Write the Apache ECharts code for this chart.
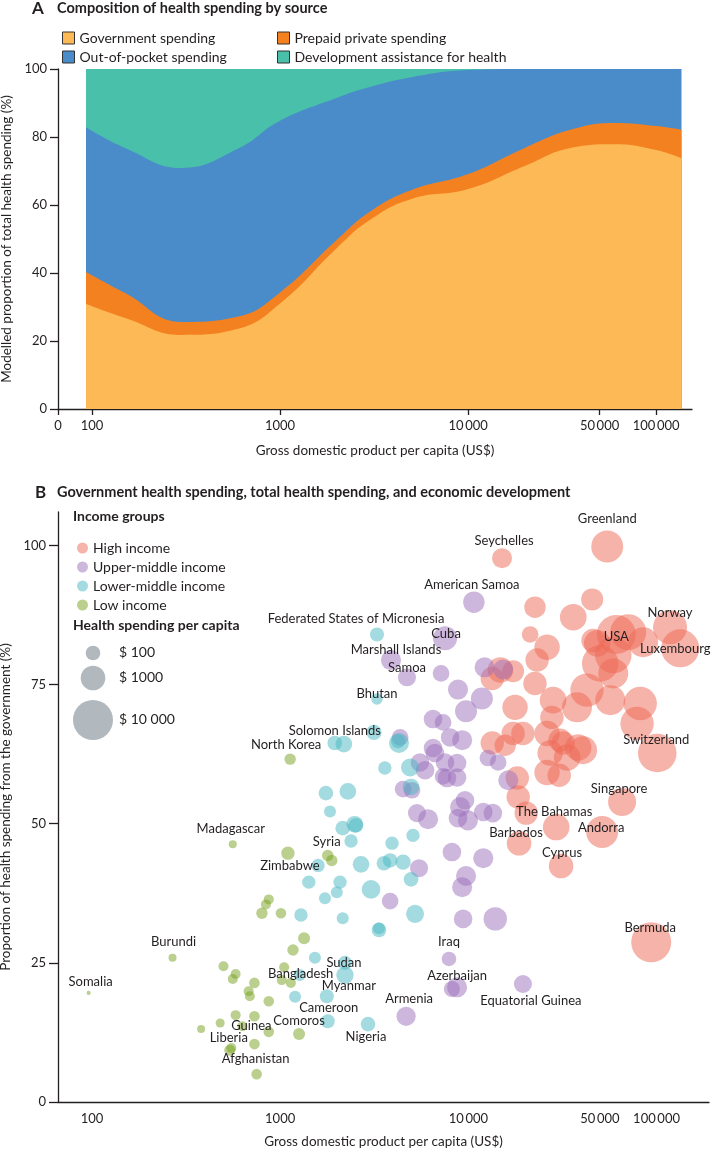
<!DOCTYPE html>
<html>
<head>
<meta charset="utf-8">
<script src="https://cdn.jsdelivr.net/npm/echarts@6/dist/echarts.min.js"></script>
<style>
  html, body { margin: 0; padding: 0; background: #fff; }
  #chart { width: 713px; height: 1150px; }
</style>
</head>
<body>
<div id="chart"></div>
<script>
// ---- panel A: modelled composition along GDP per capita (US$) ----
const gdpGrid         = [93, 150, 300, 600, 1000, 2000, 3000, 5000, 10000, 20000, 35000, 60000, 100000, 136000];
const govSpending     = [30.9, 26.8, 21.8, 23.6, 31.0, 47.3, 55.6, 61.8, 64.7, 71.5, 76.8, 77.9, 76.2, 73.8];
const prepaidSpending = [9.4, 7.3, 3.8, 3.6, 3.3, 2.4, 2.4, 2.6, 4.4, 5.3, 5.3, 6.2, 7.0, 8.3];
const oopSpending     = [42.6, 42.7, 45.3, 49.4, 50.5, 41.8, 36.7, 33.2, 30.6, 23.2, 17.9, 15.9, 16.8, 17.9];
const dahSpending     = [17.1, 23.2, 29.1, 23.4, 15.2, 8.5, 5.3, 2.4, 0.3, 0, 0, 0, 0, 0];

// ---- panel B: [GDP per capita, % from government, health spending per capita, label] ----
const highIncome = [
  [54700, 99.8, 3000, 'Greenland'], [15100, 97.7, 350, 'Seychelles'],
  [22600, 88.9, 480], [45500, 90.3, 550], [36100, 87.1, 1350], [21300, 84.0, 160],
  [26200, 81.7, 1130], [23200, 79.4, 760], [22600, 75.2, 760],
  [61100, 84.0, 8600, 'USA'], [70700, 84.4, 5500], [84900, 82.6, 2240],
  [118000, 85.3, 4070, 'Norway'], [133600, 81.5, 7400, 'Luxembourg'],
  [48400, 82.4, 1350], [58900, 80.3, 6000], [50200, 78.8, 6000], [58900, 77.0, 2240],
  [42700, 74.0, 3700], [56800, 72.2, 2240], [81900, 71.6, 3700], [78800, 68.0, 3700],
  [100900, 62.7, 8100, 'Switzerland'],
  [37800, 70.9, 2240], [28200, 72.2, 1350], [27800, 69.1, 760], [17700, 70.9, 1130],
  [17300, 66.2, 760], [19500, 66.2, 760], [26200, 66.2, 1130], [30700, 65.0, 760],
  [38300, 63.7, 1350], [14800, 77.6, 1130], [13400, 76.1, 760], [18200, 58.2, 760],
  [18400, 54.8, 760], [20300, 51.9, 760], [26200, 59.2, 1130], [30400, 58.7, 760],
  [40700, 63.2, 1660], [33500, 61.9, 1350], [27200, 62.7, 1130], [31900, 64.5, 760],
  [13400, 64.5, 760], [15700, 64.1, 480], [46000, 82.9, 760], [17300, 77.4, 550],
  [65600, 53.9, 1660, 'Singapore'], [51400, 48.5, 3000, 'Andorra'],
  [29300, 49.4, 1350, 'The Bahamas'], [18600, 46.5, 1000, 'Barbados'],
  [31100, 42.4, 1000, 'Cyprus'], [93700, 28.7, 10000, 'Bermuda']
];
const upperMiddleIncome = [
  [10700, 89.8, 480, 'American Samoa'], [7520, 83.3, 870, 'Cuba'],
  [3880, 79.4, 350, 'Marshall Islands'], [4720, 76.3, 220, 'Samoa'],
  [7160, 77.0, 160], [8810, 74.1, 350], [11800, 72.5, 550], [9720, 70.2, 550],
  [6490, 68.8, 250], [7340, 68.2, 160], [12200, 78.1, 350], [15300, 77.7, 350],
  [8000, 65.5, 250], [6640, 62.7, 250], [5530, 61.0, 250], [4340, 65.5, 160],
  [12700, 61.8, 160], [14400, 61.0, 160], [16300, 57.8, 350], [9270, 65.0, 350],
  [6490, 63.6, 250], [7520, 61.0, 250], [8710, 60.9, 250], [7700, 58.2, 250],
  [8710, 58.3, 250], [5890, 59.6, 250], [4500, 56.2, 160], [5020, 56.0, 160],
  [9040, 53.0, 350], [9600, 54.2, 250], [8810, 51.0, 250], [9950, 50.6, 350],
  [12000, 52.1, 250], [13500, 51.9, 250], [5330, 51.9, 220], [6110, 50.8, 350],
  [8180, 44.9, 250], [12000, 43.8, 350], [9720, 40.6, 350], [9270, 38.6, 350],
  [5470, 42.0, 220], [3840, 36.1, 160], [9380, 32.9, 250], [13900, 32.9, 760],
  [7340, 58.5, 160],
  [7890, 25.7, 100, 'Iraq'], [8180, 20.3, 140], [8710, 20.6, 350, 'Azerbaijan'],
  [19500, 21.2, 220, 'Equatorial Guinea'], [4670, 15.4, 290, 'Armenia']
];
const lowerMiddleIncome = [
  [3270, 84.0, 87, 'Federated States of Micronesia'], [3270, 72.4, 48, 'Bhutan'],
  [2180, 64.3, 160, 'Solomon Islands'], [1950, 64.5, 100], [3150, 66.4, 120],
  [4280, 64.5, 350], [4230, 64.8, 87], [3600, 60.0, 75], [4900, 60.1, 220],
  [4960, 56.6, 160], [1750, 55.5, 100], [2290, 55.8, 160], [1840, 52.2, 55],
  [2150, 49.2, 100], [2490, 49.9, 160], [2380, 46.9, 75], [1590, 42.5, 75],
  [1420, 39.5, 75], [2080, 39.5, 75], [2000, 37.7, 55], [1730, 36.6, 55],
  [2690, 42.7, 160], [3040, 38.2, 250], [1290, 33.6, 75], [2150, 33.0, 55],
  [3930, 46.5, 75], [3560, 42.9, 100], [3840, 43.4, 100], [4500, 43.1, 120],
  [5080, 47.9, 75], [4960, 40.0, 100], [5210, 33.8, 220], [3350, 30.9, 100],
  [3350, 31.2, 55], [2530, 49.7, 100],
  [2210, 22.8, 190, 'Sudan'], [2210, 25.0, 87], [1530, 25.9, 55],
  [1270, 22.8, 55, 'Bangladesh'], [1770, 19.0, 87, 'Myanmar'], [1200, 18.9, 55],
  [1790, 14.5, 87, 'Cameroon'], [2930, 14.0, 100, 'Nigeria']
];
const lowIncome = [
  [96, 19.6, 9, 'Somalia'], [268, 25.9, 22, 'Burundi'], [560, 46.3, 22, 'Madagascar'],
  [1130, 61.6, 48, 'North Korea'], [1100, 44.7, 75, 'Zimbabwe'],
  [1790, 44.3, 48, 'Syria'], [1880, 43.4, 48],
  [870, 36.4, 35], [840, 35.5, 35], [800, 33.9, 48], [1010, 33.9, 40],
  [1340, 29.4, 55], [1170, 27.3, 48], [500, 24.4, 35], [580, 23.0, 35],
  [560, 22.1, 35], [730, 21.4, 40], [680, 19.9, 35], [690, 19.0, 35],
  [870, 18.1, 40], [580, 15.6, 35], [730, 15.4, 40], [480, 14.2, 28],
  [380, 13.1, 22], [630, 13.6, 35, 'Guinea'], [870, 12.6, 40],
  [1260, 12.2, 55, 'Comoros'], [730, 10.4, 40], [540, 9.3, 45, 'Liberia'],
  [550, 9.7, 35], [750, 5.0, 40, 'Afghanistan'],
  [1050, 24.2, 35], [1020, 21.9, 35], [1140, 21.4, 35]
];

const gdpTicks = [100, 1000, 10000, 50000, 100000];
const sizeLegendValues = [100, 1000, 10000];

// where each country name sits relative to its bubble (px)
const labelOffset = {
  'Greenland': [0, -28], 'Seychelles': [2, -17], 'American Samoa': [-2, -17],
  'Federated States of Micronesia': [-21, -16], 'Cuba': [1, -5],
  'Marshall Islands': [5, -10], 'Samoa': [0, -9], 'Bhutan': [0, -5],
  'Solomon Islands': [-9, -13], 'North Korea': [-4, -14], 'USA': [0, 2],
  'Norway': [0, -14], 'Luxembourg': [-5, 0], 'Switzerland': [-1, -13],
  'Singapore': [-3, -13], 'Andorra': [-1, -4], 'The Bahamas': [-2, -15],
  'Barbados': [-3, -10], 'Cyprus': [1, -13], 'Bermuda': [-1, -14],
  'Madagascar': [-2, -15], 'Syria': [-1, -14], 'Zimbabwe': [2, 13],
  'Burundi': [1, -16], 'Somalia': [2, -11], 'Iraq': [0, -17],
  'Azerbaijan': [0, -12], 'Equatorial Guinea': [8, 17], 'Armenia': [3, -17],
  'Nigeria': [-2, 13], 'Cameroon': [1, -13], 'Myanmar': [22, -10],
  'Sudan': [-1, -12], 'Bangladesh': [1, -1], 'Comoros': [0, -13],
  'Guinea': [9, 0], 'Liberia': [-1, -12], 'Afghanistan': [-1, -15]
};

const font = 'Lato, "Open Sans", sans-serif';
const ink = '#231f20';
const logMin = Math.log10(66);

// bubble radius from health spending per capita
function bubbleRadius(s) {
  const L = Math.log10(s);
  return L <= 3 ? Math.max(1.6, 2.3 + 5 * (L - 1)) : 12.3 + 7.7 * (L - 3);
}

function groupDigits(n, sep) {
  return n >= 10000 ? String(n).replace(/\B(?=(\d{3})+(?!\d))/g, sep) : String(n);
}

function gdpLabel(v) {
  if (v < 1.9) return '0';
  return groupDigits(Math.round(Math.pow(10, v)), '\u2009');
}

// the four layers are filled from the axis up, top boundary first
const layerTops = [];
let running = gdpGrid.map(() => 0);
[govSpending, prepaidSpending, oopSpending, dahSpending].forEach(vals => {
  running = running.map((r, i) => +(r + vals[i]).toFixed(2));
  layerTops.push(running);
});

function areaSeries(name, tops, color) {
  return {
    name: name, type: 'line', smooth: 0.45,
    xAxisIndex: 0, yAxisIndex: 0,
    data: gdpGrid.map((g, i) => [Math.log10(g), tops[i]]),
    showSymbol: false, symbol: 'none',
    lineStyle: { width: 0 },
    itemStyle: { color: color, borderColor: '#333', borderWidth: 1 },
    areaStyle: { color: color, opacity: 1, origin: 'start' },
    emphasis: { disabled: true }, silent: true
  };
}

function bubbleSeries(name, rows, color) {
  return {
    name: name, type: 'scatter', xAxisIndex: 1, yAxisIndex: 1,
    data: rows.map(r => {
      const item = { value: [Math.log10(r[0]), r[1], r[2]], name: r[3] || '' };
      if (r[3]) item.label = { show: true };
      return item;
    }),
    symbolSize: v => 2 * bubbleRadius(v[2]),
    itemStyle: { color: color, opacity: 1 },
    label: {
      show: false, position: 'inside', formatter: p => p.name,
      color: ink, fontSize: 13, fontFamily: font
    },
    labelLayout: p => {
      const off = labelOffset[rows[p.dataIndex][3]] || [0, 0];
      return { dx: off[0], dy: off[1] };
    },
    emphasis: { disabled: true }, silent: true
  };
}

const axisLine = { show: true, onZero: false, lineStyle: { color: ink, width: 1.3 } };
const axisText = { color: ink, fontSize: 13, fontFamily: font };

const chart = echarts.init(document.getElementById('chart'));
chart.setOption({
  backgroundColor: '#fff',
  animation: false,
  textStyle: { fontFamily: font },
  title: [
    {
      text: '{l|A}{t|Composition of health spending by source}',
      left: 32, top: 0, padding: 0,
      textStyle: { rich: {
        l: { fontSize: 17, fontWeight: 'bold', color: ink, width: 25, fontFamily: font },
        t: { fontSize: 14.5, fontWeight: 'bold', color: ink, fontFamily: font }
      } }
    },
    {
      text: '{l|B}{t|Government health spending, total health spending, and economic development}',
      left: 35, top: 484, padding: 0,
      textStyle: { rich: {
        l: { fontSize: 17, fontWeight: 'bold', color: ink, width: 22, fontFamily: font },
        t: { fontSize: 14.5, fontWeight: 'bold', color: ink, fontFamily: font }
      } }
    }
  ],
  legend: [
    {
      left: 57, top: 26, orient: 'vertical', icon: 'rect', selectedMode: false,
      itemWidth: 12, itemHeight: 12, itemGap: 5,
      itemStyle: { borderColor: '#333', borderWidth: 1 },
      textStyle: { color: ink, fontSize: 14, fontFamily: font, lineHeight: 13 },
      data: ['Government spending', 'Out-of-pocket spending']
    },
    {
      left: 272, top: 26, orient: 'vertical', icon: 'rect', selectedMode: false,
      itemWidth: 12, itemHeight: 12, itemGap: 5,
      itemStyle: { borderColor: '#333', borderWidth: 1 },
      textStyle: { color: ink, fontSize: 14, fontFamily: font, lineHeight: 13 },
      data: ['Prepaid private spending', 'Development assistance for health']
    },
    {
      left: 72, top: 536, orient: 'vertical', icon: 'circle', selectedMode: false,
      itemWidth: 11, itemHeight: 11, itemGap: 5,
      textStyle: { color: ink, fontSize: 14, fontFamily: font, lineHeight: 14 },
      data: ['High income', 'Upper-middle income', 'Lower-middle income', 'Low income']
    }
  ],
  grid: [
    { left: 58, top: 69, width: 634, height: 340, outerBoundsMode: 'none', containLabel: false },
    { left: 58, top: 512, width: 651, height: 590, outerBoundsMode: 'none', containLabel: false }
  ],
  xAxis: [
    {
      type: 'value', gridIndex: 0, min: logMin, max: Math.log10(155000),
      axisLine: axisLine,
      axisTick: { show: true, length: 6, lineStyle: { color: ink, width: 1.3 },
        customValues: [logMin].concat(gdpTicks.map(Math.log10)) },
      axisLabel: Object.assign({ margin: 10, formatter: gdpLabel,
        customValues: [logMin].concat(gdpTicks.map(Math.log10)) }, axisText),
      splitLine: { show: false },
      name: 'Gross domestic product per capita (US$)', nameLocation: 'middle', nameGap: 35,
      nameTextStyle: Object.assign({}, axisText, { fontSize: 13.5 })
    },
    {
      type: 'value', gridIndex: 1, min: logMin, max: Math.log10(190000),
      axisLine: axisLine,
      axisTick: { show: false },
      axisLabel: Object.assign({ margin: 10, formatter: gdpLabel,
        customValues: gdpTicks.map(Math.log10) }, axisText),
      splitLine: { show: false },
      name: 'Gross domestic product per capita (US$)', nameLocation: 'middle', nameGap: 33,
      nameTextStyle: Object.assign({}, axisText, { fontSize: 13.5 })
    }
  ],
  yAxis: [
    {
      type: 'value', gridIndex: 0, min: 0, max: 100, interval: 20,
      axisLine: axisLine,
      axisTick: { show: true, length: 8, lineStyle: { color: ink, width: 1.3 } },
      axisLabel: Object.assign({ margin: 11 }, axisText),
      splitLine: { show: false },
      name: 'Modelled proportion of total health spending (%)', nameLocation: 'middle', nameGap: 42,
      nameTextStyle: Object.assign({}, axisText, { fontSize: 13.5 })
    },
    {
      type: 'value', gridIndex: 1, min: 0, max: 106,
      axisLine: axisLine,
      axisTick: { show: true, length: 9, lineStyle: { color: ink, width: 1.3 },
        customValues: [0, 25, 50, 75, 100] },
      axisLabel: Object.assign({ margin: 12, customValues: [0, 25, 50, 75, 100] }, axisText),
      splitLine: { show: false },
      name: 'Proportion of health spending from the government (%)', nameLocation: 'middle', nameGap: 42,
      nameTextStyle: Object.assign({}, axisText, { fontSize: 13.5 })
    }
  ],
  graphic: [
    { type: 'text', left: 73, top: 509, style: { text: 'Income groups', fill: ink, font: 'bold 14px ' + font } },
    { type: 'text', left: 73, top: 618, style: { text: 'Health spending per capita', fill: ink, font: 'bold 14px ' + font } }
  ].concat(sizeLegendValues.map((s, i) => ({
    type: 'circle', shape: { cx: 93, cy: [653, 678, 720][i], r: bubbleRadius(s) },
    style: { fill: '#b1b8be' }
  }))).concat(sizeLegendValues.map((s, i) => ({
    type: 'text', left: 119, top: [653, 678, 720][i] - 8,
    style: { text: '$ ' + groupDigits(s, ' '), fill: ink, font: '14px ' + font }
  }))),
  series: [
    areaSeries('Development assistance for health', layerTops[3], '#49c0a9'),
    areaSeries('Out-of-pocket spending', layerTops[2], '#4a8bc9'),
    areaSeries('Prepaid private spending', layerTops[1], '#f48120'),
    areaSeries('Government spending', layerTops[0], '#fcb955'),
    bubbleSeries('High income', highIncome, 'rgba(237,103,83,0.5)'),
    bubbleSeries('Upper-middle income', upperMiddleIncome, 'rgba(155,111,187,0.5)'),
    bubbleSeries('Lower-middle income', lowerMiddleIncome, 'rgba(71,183,193,0.5)'),
    bubbleSeries('Low income', lowIncome, 'rgba(119,161,29,0.5)')
  ]
});
</script>
</body>
</html>
